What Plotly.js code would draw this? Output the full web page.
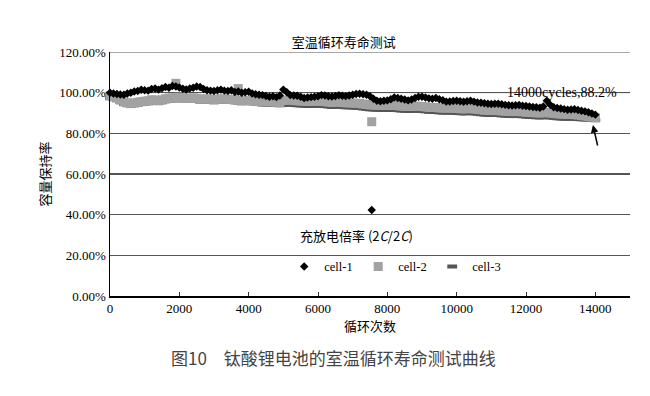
<!DOCTYPE html>
<html>
<head>
<meta charset="utf-8">
<script src="https://cdn.plot.ly/plotly-3.0.1.min.js"></script>
<style>html,body{margin:0;padding:0;background:#fff;}#chart{width:650px;height:396px;}</style>
</head>
<body>
<div id="chart"></div>
<script>
// cycle numbers (x)
const cycles = [
  0,100,200,300,400,500,600,700,800,900,
  1000,1100,1200,1300,1400,1500,1600,1700,1800,1900,
  2000,2100,2200,2300,2400,2500,2600,2700,2800,2900,
  3000,3100,3200,3300,3400,3500,3600,3700,3800,3900,
  4000,4100,4200,4300,4400,4500,4600,4700,4800,4900,
  5000,5100,5200,5300,5400,5500,5600,5700,5800,5900,
  6000,6100,6200,6300,6400,6500,6600,6700,6800,6900,
  7000,7100,7200,7300,7400,7500,7600,7700,7800,7900,
  8000,8100,8200,8300,8400,8500,8600,8700,8800,8900,
  9000,9100,9200,9300,9400,9500,9600,9700,9800,9900,
  10000,10100,10200,10300,10400,10500,10600,10700,10800,10900,
  11000,11100,11200,11300,11400,11500,11600,11700,11800,11900,
  12000,12100,12200,12300,12400,12500,12600,12700,12800,12900,
  13000,13100,13200,13300,13400,13500,13600,13700,13800,13900,
  14000];

// capacity retention (%)
const cell1 = [
  100.0,99.6,99.3,99.1,99.0,99.6,100.0,100.6,100.8,101.4,
  101.2,101.0,101.8,102.0,101.5,102.2,102.8,102.4,103.3,103.0,
  102.5,101.9,101.6,102.0,102.4,103.0,102.8,101.8,101.2,101.0,
  100.8,101.2,101.5,101.0,100.8,101.2,100.3,100.6,100.0,100.2,
  100.4,99.6,99.2,99.0,98.8,98.4,98.0,98.2,97.8,98.6,
  101.5,100.2,98.8,98.6,98.5,98.0,97.4,97.6,97.8,98.0,
  98.2,98.8,98.6,98.2,98.1,98.4,98.7,98.5,98.3,98.6,
  99.0,99.3,99.5,99.2,99.0,98.2,97.0,96.0,95.8,96.0,
  96.2,96.8,97.6,97.4,97.0,96.6,96.2,96.6,97.4,98.0,
  98.0,97.6,97.2,97.0,97.4,96.8,96.3,95.6,95.7,95.9,
  96.0,95.8,95.5,95.8,96.0,95.6,95.2,95.0,94.8,94.6,
  94.4,94.5,94.6,94.3,94.0,93.8,93.7,93.8,93.9,93.6,
  93.4,93.2,93.0,92.8,92.6,93.2,96.0,94.0,92.8,92.5,
  92.2,91.9,91.6,91.7,91.8,91.5,91.1,90.8,90.4,89.8,
  89.2];
const cell2 = [
  98.5,98.0,97.5,96.5,95.5,95.0,94.6,95.0,95.3,95.6,
  95.8,96.0,96.5,96.4,96.0,96.5,97.0,97.3,97.5,97.4,
  97.8,97.5,97.2,97.3,97.5,97.2,96.8,96.9,97.0,96.8,
  96.5,96.8,97.0,96.9,96.8,96.6,96.5,96.3,96.0,96.1,
  96.2,96.0,95.8,95.6,95.5,95.5,95.6,95.4,95.3,95.2,
  96.2,96.3,96.4,96.2,96.0,95.9,95.8,95.7,95.7,95.8,
  95.8,95.7,95.6,95.4,95.2,95.3,95.4,95.2,95.0,95.0,
  94.9,94.8,94.7,94.4,94.2,94.0,93.9,93.8,93.8,93.7,
  93.7,93.8,93.8,93.6,93.4,93.3,93.2,93.3,93.4,93.3,
  93.2,93.0,92.8,92.7,92.7,92.5,92.4,92.4,92.5,92.3,
  92.2,92.1,92.0,92.1,92.2,92.0,91.8,91.6,91.4,91.3,
  91.2,91.2,91.2,91.0,90.9,90.8,90.7,90.7,90.8,90.6,
  90.4,90.3,90.2,90.1,90.0,90.1,90.3,90.0,89.8,89.6,
  89.5,89.4,89.4,89.4,89.2,89.0,88.8,88.5,88.2,88.0,
  87.6];
const cell3 = [
  97.3,96.8,96.3,95.3,94.4,93.9,93.5,93.8,94.1,94.4,
  94.6,94.8,95.3,95.2,94.9,95.3,95.8,96.1,96.3,96.2,
  96.6,96.3,96.0,96.1,96.3,96.0,95.6,95.7,95.8,95.6,
  95.3,95.6,95.8,95.7,95.6,95.4,95.3,95.1,94.8,94.9,
  95.0,94.8,94.6,94.4,94.2,94.1,94.2,94.0,93.9,93.8,
  94.0,94.1,94.2,94.0,93.8,93.7,93.6,93.5,93.5,93.6,
  93.6,93.5,93.4,93.2,93.0,93.1,93.2,93.0,92.8,92.8,
  92.7,92.6,92.5,92.2,92.0,91.8,91.7,91.6,91.6,91.5,
  91.5,91.6,91.6,91.4,91.2,91.1,91.0,91.1,91.2,91.1,
  91.0,90.8,90.6,90.5,90.5,90.3,90.2,90.2,90.3,90.1,
  90.0,89.9,89.8,89.9,90.0,89.8,89.6,89.4,89.2,89.1,
  89.0,89.0,89.0,88.8,88.7,88.6,88.5,88.5,88.6,88.4,
  88.2,88.1,88.0,87.9,87.8,87.9,88.1,87.8,87.6,87.4,
  87.3,87.2,87.2,87.2,87.2,87.0,86.9,86.8,86.7,86.6,
  86.5];

// outlying readings
const cell1OutCycles = [7550];
const cell1OutValues = [42.3];
const cell2OutCycles = [1900, 3700, 7550];
const cell2OutValues = [104.6, 102.0, 85.7];

// axis ticks
const xTicks = [0,2000,4000,6000,8000,10000,12000,14000];
const yTicks = [0,20,40,60,80,100,120];

const serif = "Liberation Serif, Times New Roman, serif";
const cjk = "Noto Sans CJK SC, sans-serif";

const s2 = {symbol:'square', size:9, color:'#a2a2a2'};
const s3 = {symbol:'line-ew', size:7, color:'#555', line:{color:'#555', width:4}};
const s1 = {symbol:'diamond', size:6.5, color:'#000'};

const traces = [
  {x:cycles, y:cell3, mode:'markers', type:'scatter', name:'cell-3', marker:s3, legendrank:3, cliponaxis:false},
  {x:cycles, y:cell2, mode:'markers', type:'scatter', name:'cell-2', marker:s2, legendrank:2, cliponaxis:false},
  {x:cell2OutCycles, y:cell2OutValues, mode:'markers', type:'scatter', name:'cell-2', marker:s2, showlegend:false},
  {x:cycles, y:cell1, mode:'markers', type:'scatter', name:'cell-1', marker:s1, legendrank:1, cliponaxis:false},
  {x:cell1OutCycles, y:cell1OutValues, mode:'markers', type:'scatter', name:'cell-1', marker:s1, showlegend:false}
];

const layout = {
  width:650, height:396,
  margin:{l:110, r:20, t:52, b:100},
  paper_bgcolor:'#fff', plot_bgcolor:'#fff',
  showlegend:true,
  title:{text:'室温循环寿命测试', font:{family:cjk, size:13, color:'#000'},
    x:0.529, xref:'container', xanchor:'center', y:1-42/396, yref:'container', yanchor:'middle'},
  xaxis:{range:[0,15000], tickvals:xTicks, ticktext:xTicks.map(String), showgrid:false, zeroline:false,
    showline:true, linecolor:'#000', linewidth:1.5, ticks:'inside', ticklen:4, tickcolor:'#333',
    tickfont:{family:serif, size:13, color:'#000'},
    title:{text:'循环次数', font:{family:cjk, size:13, color:'#000'}, standoff:4}},
  yaxis:{range:[0,120], tickvals:yTicks, ticktext:yTicks.map(v=>v.toFixed(2)+'%'),
    showgrid:true, gridcolor:'#555', gridwidth:1.3, zeroline:false,
    showline:true, linecolor:'#000', linewidth:1.5, ticks:'',
    tickfont:{family:serif, size:13, color:'#000'},
    title:{text:'容量保持率', font:{family:cjk, size:13, color:'#000'}, standoff:6}},
  shapes:[
    {type:'line', xref:'paper', x0:0, x1:1, yref:'y', y0:100, y1:100, line:{color:'#bdbdbd', width:1.3}, layer:'between'},
    {type:'line', xref:'paper', x0:0, x1:1, yref:'y', y0:120, y1:120, line:{color:'#8a8a8a', width:1.3}, layer:'between'}
  ],
  legend:{orientation:'h', x:0.335, xanchor:'left', y:0.119, yanchor:'middle', bgcolor:'rgba(0,0,0,0)',
    font:{family:serif, size:12.5, color:'#000'}, entrywidth:29, traceorder:'normal', itemsizing:'trace'},
  annotations:[
    {x:13037, y:100.3, xref:'x', yref:'y', text:'14000cycles,88.2%', showarrow:false,
      font:{family:serif, size:14, color:'#000'}},
    {x:13931, y:84.1, xref:'x', yref:'y', text:'', showarrow:true, ax:5, ay:22,
      arrowhead:2, arrowsize:1, arrowwidth:1.5, arrowcolor:'#000'},
    {x:7124, y:30, xref:'x', yref:'y', text:'充放电倍率 (2<i>C</i>/2<i>C</i>)', showarrow:false,
      font:{family:cjk, size:13, color:'#000'}},
    {x:0.43, y:(296-372)/244, xref:'paper', yref:'paper', text:'图10　钛酸锂电池的室温循环寿命测试曲线', showarrow:false,
      font:{family:cjk, size:17, color:'#444'}}
  ]
};

Plotly.newPlot('chart', traces, layout, {staticPlot:true, displayModeBar:false});
</script>
</body>
</html>
